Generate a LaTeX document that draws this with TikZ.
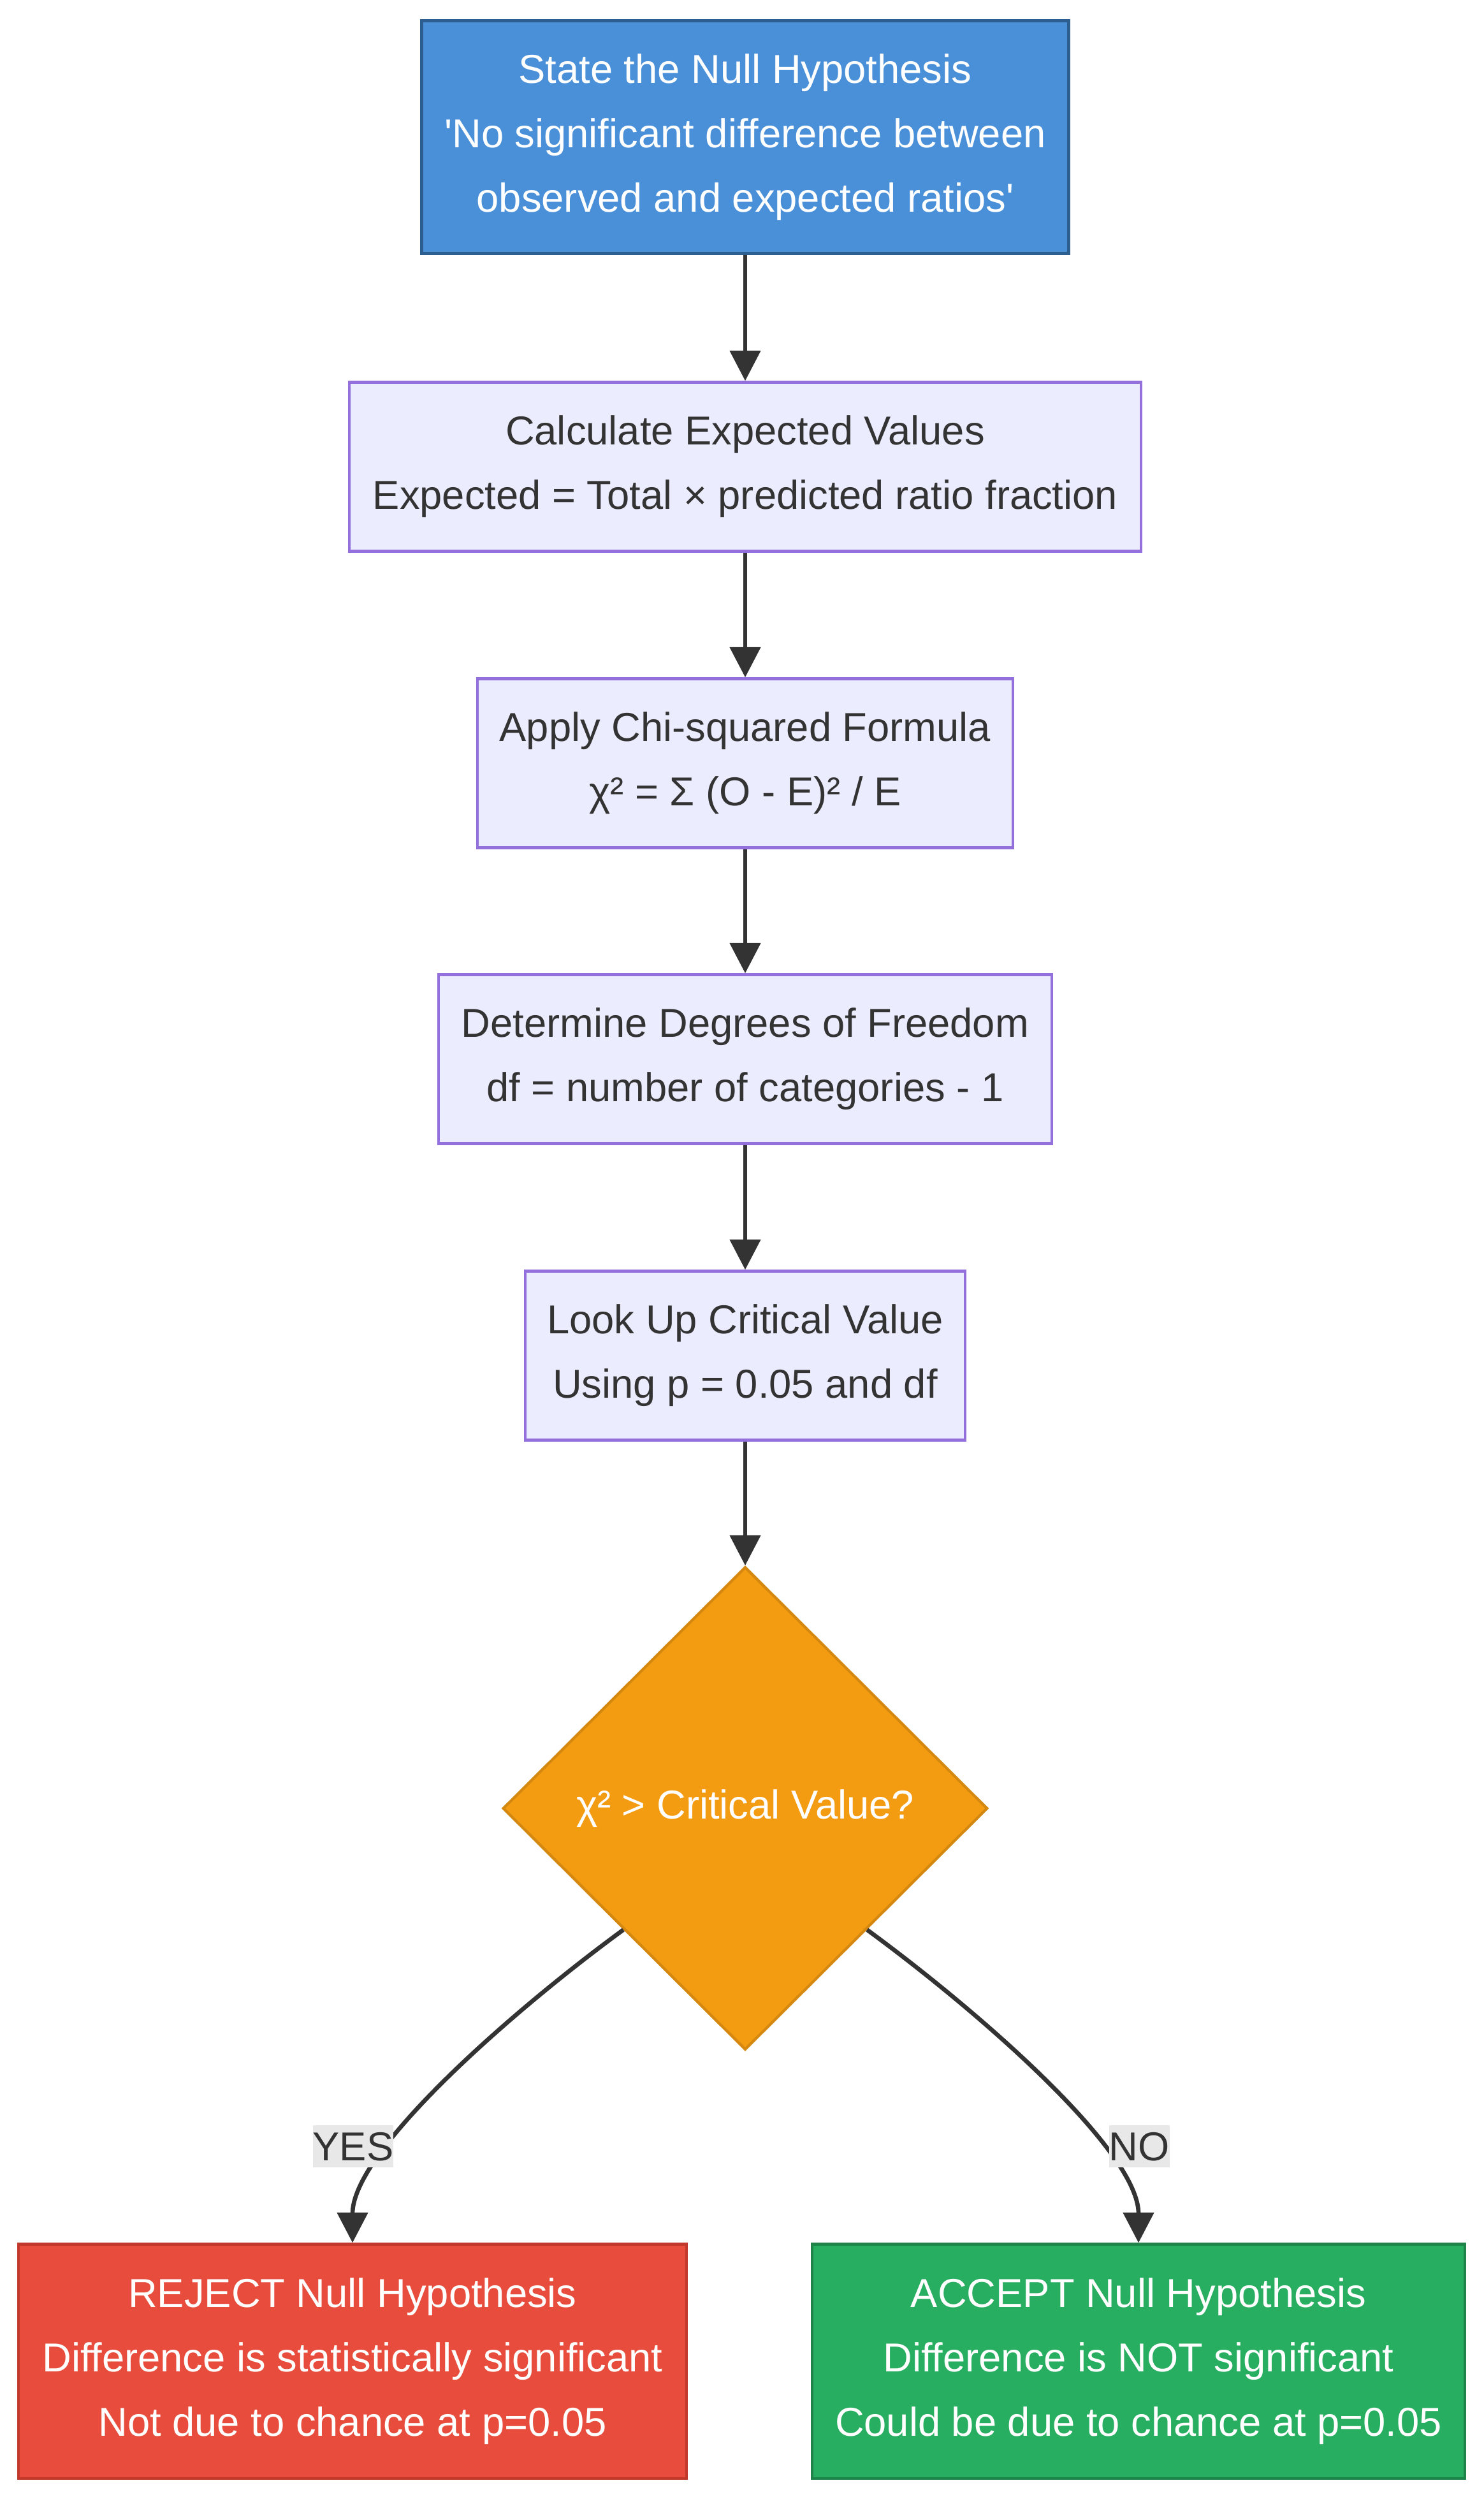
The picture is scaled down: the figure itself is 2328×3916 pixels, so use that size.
\documentclass[tikz,border=0pt]{standalone}
\usepackage{fontspec}
\setmainfont{Liberation Sans}
\usetikzlibrary{shapes.geometric,arrows.meta}
\definecolor{hypofill}{HTML}{4A90D9}
\definecolor{hypoline}{HTML}{2C5F8F}
\definecolor{stepfill}{HTML}{ECECFF}
\definecolor{stepline}{HTML}{9370DB}
\definecolor{choicefill}{HTML}{F39C12}
\definecolor{choiceline}{HTML}{D4880F}
\definecolor{rejfill}{HTML}{E74C3C}
\definecolor{rejline}{HTML}{C0392B}
\definecolor{accfill}{HTML}{27AE60}
\definecolor{accline}{HTML}{1E8449}
\definecolor{inkgrey}{HTML}{333333}
\definecolor{tagfill}{HTML}{E8E8E8}

\begin{document}
\begin{tikzpicture}[x=0.01cm,y=-0.01cm,
            base/.style={align=center,inner sep=0pt,line width=1.2pt,font=\fontsize{18}{28.7}\selectfont},
            stepbox/.style={base,draw=stepline,fill=stepfill,text=inkgrey,minimum height=2.65cm},
            endbox/.style={base,text=white,minimum height=3.67cm},
            flow/.style={draw=inkgrey,line width=1.9pt,-{Triangle[length=13.5pt,width=13.5pt]}},
            tag/.style={fill=tagfill,text=inkgrey,inner xsep=0pt,inner ysep=3pt,text height=13pt,text depth=0pt,font=\fontsize{18}{20}\selectfont}]
            \useasboundingbox (0,0) rectangle (2328,3916);
            \node[base,draw=hypoline,fill=hypofill,text=white,line width=1.5pt,minimum width=10.14cm,minimum height=3.65cm] (null) at (1169,215)
                {State the Null Hypothesis\\\textquotesingle No significant difference between\\observed and expected ratios\textquotesingle};
            \node[stepbox,minimum width=12.41cm] (expect) at (1169,732) {Calculate Expected Values\\Expected = Total × predicted ratio fraction};
            \node[stepbox,minimum width=8.4cm] (formula) at (1169,1197) {Apply Chi-squared Formula\\χ² = Σ (O - E)² / E};
            \node[stepbox,minimum width=9.62cm] (freedom) at (1169,1661) {Determine Degrees of Freedom\\df = number of categories - 1};
            \node[stepbox,minimum width=6.9cm] (critical) at (1169,2126) {Look Up Critical Value\\Using p = 0.05 and df};
            \node[base,diamond,draw=choiceline,fill=choicefill,text=white,minimum width=7.6cm,minimum height=7.57cm] (test) at (1169,2836) {χ² > Critical Value?};
            \node[endbox,draw=rejline,fill=rejfill,minimum width=10.47cm] (reject) at (553,3703)
                {REJECT Null Hypothesis\\Difference is statistically significant\\Not due to chance at p=0.05};
            \node[endbox,draw=accline,fill=accfill,minimum width=10.24cm] (accept) at (1786,3703)
                {ACCEPT Null Hypothesis\\Difference is NOT significant\\Could be due to chance at p=0.05};
            \foreach \a/\b in {null/expect,expect/formula,formula/freedom,freedom/critical,critical/test}
                \draw[flow] (\a) -- (\b);
            \draw[flow] (test.south west) .. controls +(-175,128) and +(0,-144) .. (reject.north);
            \draw[flow] (test.south east) .. controls +(175,128) and +(0,-144) .. (accept.north);
            \node[tag] (yes) at (554,3366) {YES};
            \node[tag] (no) at (1787,3366) {NO};
\end{tikzpicture}
\end{document}
